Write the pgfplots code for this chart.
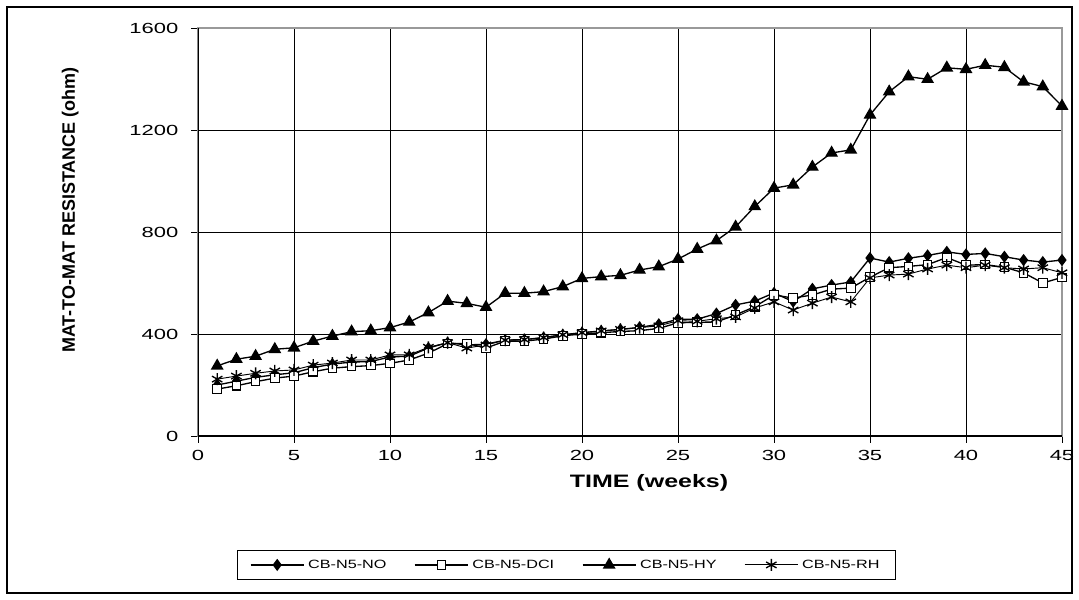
\documentclass[border=0pt]{standalone}
\usepackage{fontspec}
\setmainfont{Liberation Sans}
\usepackage{pgfplots}
\pgfplotsset{compat=1.18}
\begin{document}
\begin{tikzpicture}
\path[use as bounding box] (-148.5pt,-123pt) rectangle (660.75pt,327pt);
\draw[line width=0.8pt] (-143.25pt,-117.75pt) rectangle (655.5pt,321.75pt);
\begin{axis}[
  at={(0pt,0pt)}, anchor=south west,
  scale only axis, width=648pt, height=306pt,
  xmin=0, xmax=45, ymin=0, ymax=1600,
  xtick={0,5,...,45}, ytick={0,400,...,1600},
  grid=major, major grid style={black, line width=0.6pt},
  axis line style={gray!80, line width=0.8pt},
  tick align=outside, xtick pos=bottom, ytick pos=left,
  major tick length=5pt, tick style={black, line width=0.6pt},
  /pgf/number format/assume math mode=true,
  /pgf/number format/1000 sep={},
  every tick label/.append style={font=\fontsize{11}{13}\selectfont, xscale=1.5},
  xticklabel style={yshift=-2pt},
  yticklabel style={xshift=-3pt},
  xlabel={TIME (weeks)},
  xlabel style={at={(axis description cs:0.522,-0.115)}, anchor=center, font=\fontsize{13.5}{15}\selectfont\bfseries, xscale=1.39},
  ylabel={MAT-TO-MAT RESISTANCE (ohm)},
  ylabel style={at={(axis description cs:-0.148,0.554)}, anchor=center, font=\fontsize{13.5}{15}\selectfont\bfseries},
  legend columns=4,
  legend style={at={(axis description cs:0.4265,-0.316)}, anchor=center, draw=black, line width=0.6pt,
    font=\fontsize{9}{11}\selectfont, inner xsep=9pt, inner ysep=5pt,
    nodes={xscale=1.35, inner xsep=2pt},
    /tikz/every odd column/.append style={column sep=0pt},
    /tikz/every even column/.append style={column sep=18pt}},
  legend image code/.code={\draw[#1, mark repeat=2, mark phase=2] plot coordinates {(0pt,0pt) (20pt,0pt) (40pt,0pt)};},
  every axis plot/.append style={black, line width=1pt},
]
\addplot[mark=diamond*, mark size=3.8pt, mark options={solid, fill=black}] coordinates {
(1,200)(2,215)(3,230)(4,240)(5,248)(6,268)(7,282)(8,290)(9,292)(10,310)
(11,313)(12,345)(13,366)(14,357)(15,360)(16,376)(17,378)(18,386)(19,397)(20,405)
(21,412)(22,418)(23,426)(24,438)(25,458)(26,458)(27,480)(28,514)(29,529)(30,561)
(31,527)(32,577)(33,592)(34,604)(35,698)(36,682)(37,697)(38,708)(39,722)(40,712)
(41,716)(42,703)(43,690)(44,682)(45,690)};
\addlegendentry{CB-N5-NO}
\addplot[mark=square*, mark size=3.2pt, mark options={solid, fill=white, line width=0.8pt}] coordinates {
(1,184)(2,197)(3,213)(4,227)(5,235)(6,252)(7,266)(8,272)(9,276)(10,285)
(11,298)(12,325)(13,362)(14,363)(15,345)(16,372)(17,372)(18,380)(19,393)(20,400)
(21,405)(22,410)(23,413)(24,422)(25,444)(26,446)(27,447)(28,475)(29,507)(30,553)
(31,541)(32,553)(33,576)(34,580)(35,623)(36,660)(37,665)(38,672)(39,700)(40,670)
(41,672)(42,662)(43,640)(44,600)(45,622)};
\addlegendentry{CB-N5-DCI}
\addplot[mark=triangle*, mark size=4.6pt, mark options={solid, fill=black}] coordinates {
(1,275)(2,301)(3,313)(4,340)(5,346)(6,372)(7,392)(8,409)(9,413)(10,425)
(11,447)(12,484)(13,529)(14,520)(15,505)(16,560)(17,560)(18,566)(19,586)(20,618)
(21,625)(22,630)(23,651)(24,664)(25,694)(26,733)(27,766)(28,820)(29,900)(30,972)
(31,985)(32,1055)(33,1110)(34,1122)(35,1259)(36,1350)(37,1409)(38,1399)(39,1444)(40,1438)
(41,1454)(42,1446)(43,1389)(44,1370)(45,1294)};
\addlegendentry{CB-N5-HY}
\addplot[mark=asterisk, mark size=4.5pt, line width=0.7pt, mark options={solid, line width=1pt}] coordinates {
(1,223)(2,235)(3,246)(4,255)(5,259)(6,278)(7,286)(8,298)(9,298)(10,318)
(11,318)(12,348)(13,366)(14,345)(15,357)(16,376)(17,378)(18,386)(19,397)(20,405)
(21,412)(22,418)(23,425)(24,432)(25,452)(26,450)(27,460)(28,467)(29,502)(30,526)
(31,494)(32,521)(33,545)(34,526)(35,620)(36,631)(37,635)(38,655)(39,670)(40,660)
(41,670)(42,660)(43,655)(44,660)(45,640)};
\addlegendentry{CB-N5-RH}
\draw[black, line width=0.8pt] (rel axis cs:0,1) -- (rel axis cs:0,0) -- (rel axis cs:1,0);
\end{axis}
\end{tikzpicture}
\end{document}
